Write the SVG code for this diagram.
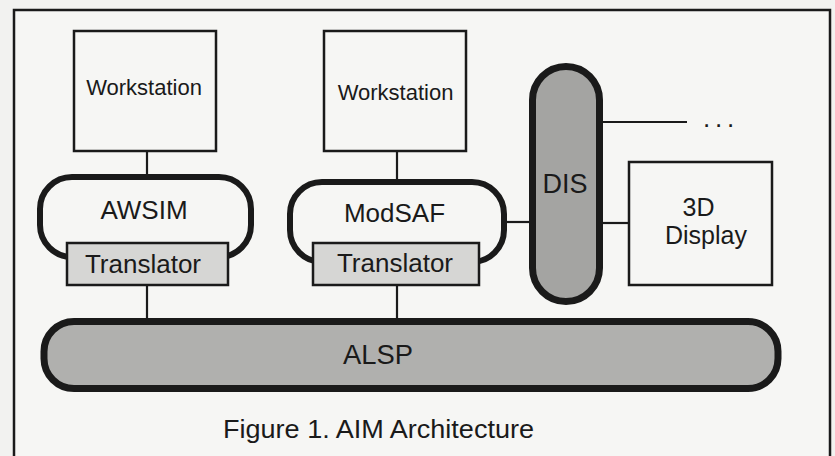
<svg xmlns="http://www.w3.org/2000/svg" width="835" height="456" viewBox="0 0 835 456">
<style>
.t{font-family:"Liberation Sans",Arial,Helvetica,sans-serif;fill:#1a1a1a;text-anchor:middle}
.box{fill:#f6f6f4;stroke:#1a1a1a;stroke-width:2.5}
.pill{fill:#f6f6f4;stroke:#1a1a1a;stroke-width:6}
.tr{fill:#d6d6d4;stroke:#1a1a1a;stroke-width:2.5}
.bus{stroke:#1a1a1a;stroke-width:7}
.ln{stroke:#1a1a1a;stroke-width:2.2;fill:none}
</style>
<rect x="0" y="0" width="835" height="456" fill="#f2f2f0"/>
<rect x="14" y="10" width="816" height="470" fill="#f6f6f4" stroke="#1a1a1a" stroke-width="2.5"/>
<g id="connectors">
<line class="ln" x1="147" y1="151" x2="147" y2="177"/>
<line class="ln" x1="397" y1="151" x2="397" y2="182"/>
<line class="ln" x1="147" y1="285" x2="147" y2="320"/>
<line class="ln" x1="397" y1="285" x2="397" y2="320"/>
<line class="ln" x1="504" y1="222" x2="533" y2="222"/>
<line class="ln" x1="599" y1="122" x2="687" y2="122"/>
<line class="ln" x1="599" y1="223" x2="629" y2="223"/>
</g>
<g id="ws1">
<rect class="box" x="74" y="31" width="142" height="120"/>
<text class="t" x="144" y="95" font-size="22">Workstation</text>
</g>
<g id="ws2">
<rect class="box" x="324" y="31" width="142" height="120"/>
<text class="t" x="395.5" y="100" font-size="22">Workstation</text>
</g>
<g id="awsim">
<rect class="pill" x="40" y="177" width="211" height="80" rx="32"/>
<text class="t" x="144" y="219" font-size="26">AWSIM</text>
</g>
<g id="translator1">
<rect class="tr" x="67" y="243" width="161" height="42"/>
<text class="t" x="143" y="273" font-size="26">Translator</text>
</g>
<g id="modsaf">
<rect class="pill" x="290" y="182" width="214" height="80" rx="32"/>
<text class="t" x="394.5" y="222" font-size="26">ModSAF</text>
</g>
<g id="translator2">
<rect class="tr" x="313" y="243" width="166" height="42"/>
<text class="t" x="395" y="272" font-size="26">Translator</text>
</g>
<g id="dis">
<rect class="bus" x="532.5" y="66.5" width="67" height="235" rx="33.5" fill="#a4a4a2"/>
<text class="t" x="565" y="193" font-size="27">DIS</text>
</g>
<g id="more">
<text class="t" x="721" y="127" font-size="26" letter-spacing="4.8" text-anchor="middle">...</text>
</g>
<g id="display3d">
<rect class="box" x="629" y="162" width="143" height="123"/>
<text class="t" x="698.5" y="216" font-size="25">3D</text>
<text class="t" x="706" y="244" font-size="25">Display</text>
</g>
<g id="alsp">
<rect class="bus" x="44" y="321.5" width="734" height="67" rx="30" fill="#b0b0ae"/>
<text class="t" x="378" y="364" font-size="28" textLength="70" lengthAdjust="spacingAndGlyphs">ALSP</text>
</g>
<text class="t" x="378.5" y="438" font-size="26" textLength="311" lengthAdjust="spacingAndGlyphs">Figure 1. AIM Architecture</text>
</svg>
